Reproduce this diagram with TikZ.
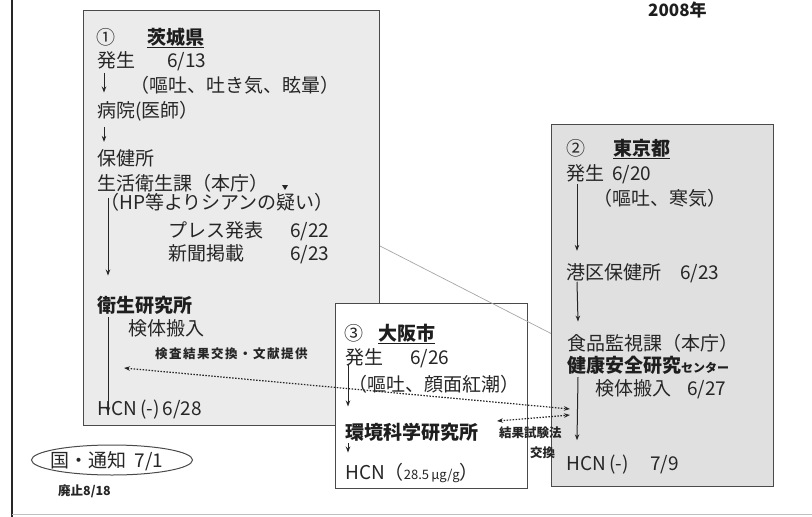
\documentclass[tikz,border=0pt]{standalone}
\usepackage{fontspec}
\setmainfont{Noto Sans CJK JP}
\usetikzlibrary{arrows.meta,shapes.geometric}
\definecolor{ink}{HTML}{262626}
\definecolor{frame}{HTML}{4A4A4A}
\definecolor{fillA}{HTML}{EBEBEB}
\definecolor{fillB}{HTML}{E0E0E0}
\newcommand\szM{\fontsize{19}{22}\selectfont}
\newcommand\szS{\fontsize{12.5}{14}\selectfont}
\begin{document}
\begin{tikzpicture}[x=1pt,y=-1pt,
  txt/.style={anchor=base west,inner sep=0pt,text=ink,font=\szM},
  bld/.style={anchor=base west,inner sep=0pt,text=ink!80!black,font=\szM\bfseries},
  sml/.style={anchor=base west,inner sep=0pt,text=ink,font=\szS\bfseries},
  flow/.style={draw=ink,line width=1pt,-{Stealth[length=6pt,width=4.5pt]}},
  xchg/.style={draw=ink,line width=1.2pt,dash pattern=on 1.5pt off 1.5pt,{Stealth[length=6pt,width=4.5pt]}-{Stealth[length=6pt,width=4.5pt]}},
  panel/.style={draw=frame,line width=1pt,anchor=north west,inner sep=0pt}]
\useasboundingbox (0,0) rectangle (812,517);
\fill[white] (0,0) rectangle (812,517);
\draw[ink,line width=2.5pt] (12,0) -- (12,517);
\draw[black!25,line width=0.8pt] (12,514) -- (812,514);

% panels
\node[panel,fill=fillA,minimum width=296pt,minimum height=415pt] (p1) at (83,10) {};
\node[panel,fill=fillB,minimum width=222pt,minimum height=362pt] (p2) at (551,124) {};
\node[panel,fill=white,minimum width=192pt,minimum height=185pt] (p3) at (335,303) {};

% box 1
\node[txt] (n1) at (96,44) {①};
\node[bld] (t1) at (147,44) {\underline{茨城県}};
\node[txt] (a1) at (97,67) {発生};
\node[txt] (a1d) at (167,67) {6/13};
\node[txt] (a1s) at (130,92) {（嘔吐、吐き気、眩暈）};
\node[txt] (b1) at (97,117) {病院(医師）};
\node[txt] (c1) at (97,165) {保健所};
\node[txt] (d1) at (97,190) {生活衛生課（本庁）};
\node[txt] (d1s) at (100,209) {（HP等よりシアンの疑い）};
\node[txt] (e1) at (168,237) {プレス発表};
\node[txt] (e1d) at (290,237) {6/22};
\node[txt] (f1) at (168,260) {新聞掲載};
\node[txt] (f1d) at (290,260) {6/23};
\node[bld] (g1) at (97,312) {衛生研究所};
\node[txt] (h1) at (128,335) {検体搬入};
\node[sml,font=\szS\bfseries\addfontfeature{LetterSpace=12}] (x1) at (155,358) {検査結果交換・文献提供};
\node[txt] (k1) at (97,415) {HCN\,(-)\,6/28};
\fill[ink] (282,185) -- (288,185) -- (285,190) -- cycle;

% box 2
\node[txt] (n2) at (566,155) {②};
\node[bld] (t2) at (613,155) {\underline{東京都}};
\node[txt] (a2) at (566,180) {発生};
\node[txt] (a2d) at (612,180) {6/20};
\node[txt] (a2s) at (593,205) {（嘔吐、寒気）};
\node[txt] (b2) at (566,279) {港区保健所};
\node[txt] (b2d) at (680,279) {6/23};
\node[txt] (c2) at (567,350) {食品監視課（本庁）};
\node[bld] (d2) at (567,372) {健康安全研究{\fontsize{12}{14}\selectfont センター}};
\node[txt] (e2) at (595,395) {検体搬入};
\node[txt] (e2d) at (687,395) {6/27};
\node[txt] (f2) at (566,470) {HCN\,(-)};
\node[txt] (f2d) at (650,470) {7/9};

% box 3
\node[txt] (n3) at (344,340) {③};
\node[bld] (t3) at (378,340) {\underline{大阪市}};
\node[txt] (a3) at (345,364) {発生};
\node[txt] (a3d) at (410,364) {6/26};
\node[txt] (a3s) at (348,391) {（嘔吐、顔面紅潮）};
\node[bld] (b3) at (345,439) {環境科学研究所};
\node[txt] (c3) at (345,479) {HCN（{\fontsize{13}{15}\selectfont 28.5\,μg/g}）};
\node[sml] (k3) at (499,437) {結果試験法};
\node[sml] (k3b) at (530,457) {交換};

% bottom left and year
\node[draw=frame,line width=1pt,ellipse,minimum width=161pt,minimum height=30pt,inner sep=0pt] (ov) at (112,460) {};
\node[txt] (kuni) at (50,467) {国・通知\ \ 7/1};
\node[sml] (haishi) at (58,495) {廃止8/18};
\node[bld,font=\fontsize{17}{20}\selectfont\bfseries] (year) at (648,16) {2008年};

% flow arrows box 1
\draw[flow] ([xshift=7pt,yshift=-4pt]a1.south west) -- ([xshift=7pt,yshift=8pt]b1.north west);
\draw[flow] ([xshift=7pt,yshift=-6pt]b1.south west) -- ([xshift=7pt,yshift=7pt]c1.north west);
\draw[flow] ([xshift=11pt,yshift=-6pt]d1.south west) -- ([xshift=11pt,yshift=20pt]g1.north west);
\draw[flow] ([xshift=11pt,yshift=-3pt]g1.south west) -- ([xshift=11pt,yshift=2pt]k1.base west);
% flow arrows box 2
\draw[flow] ([xshift=11pt,yshift=-2pt]a2.south west) -- ([xshift=11pt,yshift=12pt]b2.north west);
\draw[flow] ([xshift=11pt,yshift=-1pt]b2.south west) -- ([xshift=11pt,yshift=12pt]c2.north west);
\draw[flow] ([xshift=11pt,yshift=-3pt]d2.south west) -- ([xshift=11pt,yshift=14pt]f2.north west);
% flow arrows box 3
\draw[flow] ([xshift=3pt,yshift=2pt]a3.south west) -- ([xshift=3pt,yshift=16pt]b3.north west);
\draw[flow] ([xshift=3pt,yshift=-2pt]b3.south west) -- ([xshift=3pt,yshift=10pt]c3.north west);

% thin line between boxes 1 and 2
\draw[black!35,line width=0.7pt] ([yshift=-28pt]p1.east) -- ([yshift=-28pt]p2.west);

% exchange arrows
\coordinate (xL) at (124,368);
\coordinate (xR) at (570,409);
\draw[xchg] (xL) -- (xR);
\coordinate (yL) at (497,421);
\coordinate (yR) at (570,415);
\draw[xchg] (yL) -- (yR);
\end{tikzpicture}
\end{document}
